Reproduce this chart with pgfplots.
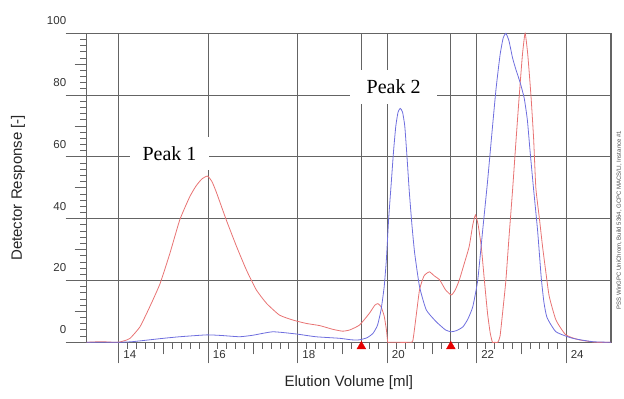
\documentclass[border=0pt]{standalone}
\usepackage{pgfplots}
\pgfplotsset{compat=1.18}
\usepackage{fontspec}
\setmainfont{Liberation Sans}
\newfontfamily\seriffont{Liberation Serif}
\definecolor{gridgray}{RGB}{100,100,100}
\definecolor{cred}{RGB}{232,115,115}
\definecolor{cblue}{RGB}{110,110,222}
\begin{document}
\begin{tikzpicture}
\useasboundingbox (-86.7pt,-56.7pt) rectangle (537.3pt,342.3pt);
\begin{axis}[
  at={(0pt,0pt)}, anchor=south west,
  scale only axis, width=524.3pt, height=309pt,
  xmin=13.28, xmax=25, ymin=0, ymax=100,
  xtick={14,16,...,24}, ytick={0,20,...,100},
  minor x tick num=9, minor y tick num=9,
  tick align=outside, xtick pos=bottom, ytick pos=left,
  major tick length=21pt, minor tick length=6.5pt,
  grid=major,
  major grid style={gridgray, line width=1.1pt},
  axis line style={gridgray, line width=1.1pt},
  every tick/.style={gridgray, line width=0.9pt},
  tick label style={font=\fontsize{11.5}{13}\selectfont, text=black!80},
  /pgf/number format/assume math mode=true,
  xticklabel style={anchor=north west, yshift=16pt, xshift=1pt},
  yticklabel style={anchor=south east, xshift=4pt, yshift=5pt},
  extra x ticks={15,17,19,21,23},
  extra y ticks={10,30,50,70,90},
  extra tick style={grid=none, major tick length=12pt},
  extra x tick labels={}, extra y tick labels={},
  xlabel={Elution Volume [ml]},
  ylabel={Detector Response [-]},
  label style={font=\fontsize{15}{17}\selectfont, text=black!85},
  xlabel style={at={(axis description cs:0.5,-0.13)}, anchor=center},
  ylabel style={at={(axis description cs:-0.131,0.5)}, anchor=center},
  clip=false,
]
% marker lines
\addplot[gridgray, line width=1.1pt] coordinates {(19.42,0) (19.42,100)};
\addplot[gridgray, line width=1.1pt] coordinates {(21.42,0) (21.42,100)};
% red trace
\addplot[cred, line width=0.8pt, smooth, tension=0.3] coordinates {
(13.28,0) (13.6,0.2) (13.9,0) (14.02,0.1) (14.12,0.5) (14.25,1.3) (14.47,5) (14.69,11.5) (14.92,19) (15.14,28.8) (15.36,39.6) (15.58,47) (15.72,50.5) (15.85,52.8) (15.98,53.8) (16.08,52) (16.18,48.5) (16.4,39.6) (16.63,31) (16.85,23.4) (17.07,17) (17.3,12.6) (17.59,8.8) (17.89,7.2) (18.19,6.1) (18.49,5.4) (18.78,4.2) (19.0,3.6) (19.16,4.0) (19.38,5.6) (19.6,9.4) (19.72,12) (19.79,12.5) (19.86,11.5) (19.93,8.5) (19.98,4) (20.01,0) (20.05,0) (20.5,0) (20.57,0.5) (20.64,8) (20.72,17) (20.82,21.5) (20.94,22.8) (21.05,21.5) (21.17,20.2) (21.3,17) (21.43,15.3) (21.52,17) (21.61,20.2) (21.72,25.5) (21.83,31) (21.91,38) (21.97,41.2) (22.03,38) (22.1,31) (22.17,20) (22.24,9.4) (22.3,3) (22.35,0) (22.4,0) (22.47,0) (22.52,2) (22.58,10) (22.65,20) (22.72,34) (22.8,49.3) (22.88,66) (22.95,80) (23.02,93) (23.08,100) (23.14,93) (23.21,80) (23.27,66) (23.32,50) (23.4,40) (23.47,31) (23.55,22) (23.62,14.8) (23.77,7.2) (23.99,2.4) (24.29,0.8) (24.66,0) (25,0)
};
% blue trace
\addplot[cblue, line width=0.8pt, smooth, tension=0.3] coordinates {
(13.28,0) (14.0,0) (14.3,0.2) (14.62,0.7) (15.0,1.3) (15.36,1.8) (15.96,2.4) (16.3,2.2) (16.7,1.8) (17.0,2.3) (17.44,3.4) (17.96,2.7) (18.4,1.8) (18.93,1.3) (19.2,0.8) (19.38,0.8) (19.55,1.5) (19.68,2.9) (19.78,5.5) (19.86,10.5) (19.93,18) (19.98,27) (20.03,40) (20.09,52) (20.14,62) (20.19,70) (20.24,74.5) (20.29,75.7) (20.34,74.5) (20.39,70) (20.44,60) (20.49,49) (20.55,38) (20.61,29) (20.72,18) (20.87,10.5) (21.09,6.7) (21.3,4) (21.43,3.4) (21.55,3.8) (21.69,5) (21.8,7.5) (21.91,11.5) (22.02,20) (22.13,36) (22.24,52) (22.34,68) (22.43,82) (22.52,93) (22.59,98.5) (22.65,100) (22.72,97.5) (22.8,92) (22.88,88) (22.97,84) (23.06,79) (23.13,72) (23.19,62) (23.26,51) (23.36,36) (23.44,21) (23.5,13) (23.57,8) (23.77,3.4) (24.14,1.3) (24.59,0.2) (25,0)
};
% injection markers
\addplot[only marks, mark=triangle*, mark size=5pt, color=red!90!black] coordinates {(19.42,-1.3) (21.42,-1.3)};
% peak labels
\node[fill=white, inner xsep=13pt, inner ysep=9pt, font=\seriffont\fontsize{20}{22}\selectfont] at (axis cs:15.13,61.1) {Peak 1};
\node[fill=white, inner xsep=16.5pt, inner ysep=10pt, font=\seriffont\fontsize{20}{22}\selectfont] at (axis cs:20.14,82.6) {Peak 2};
\end{axis}
\node[rotate=90, font=\fontsize{6}{7}\selectfont, text=black!70] at (532.3pt,122.3pt) {PSS WinGPC UniChrom, Build 5364, GCPC MACS/LI, Instance \#1};
\end{tikzpicture}
\end{document}
